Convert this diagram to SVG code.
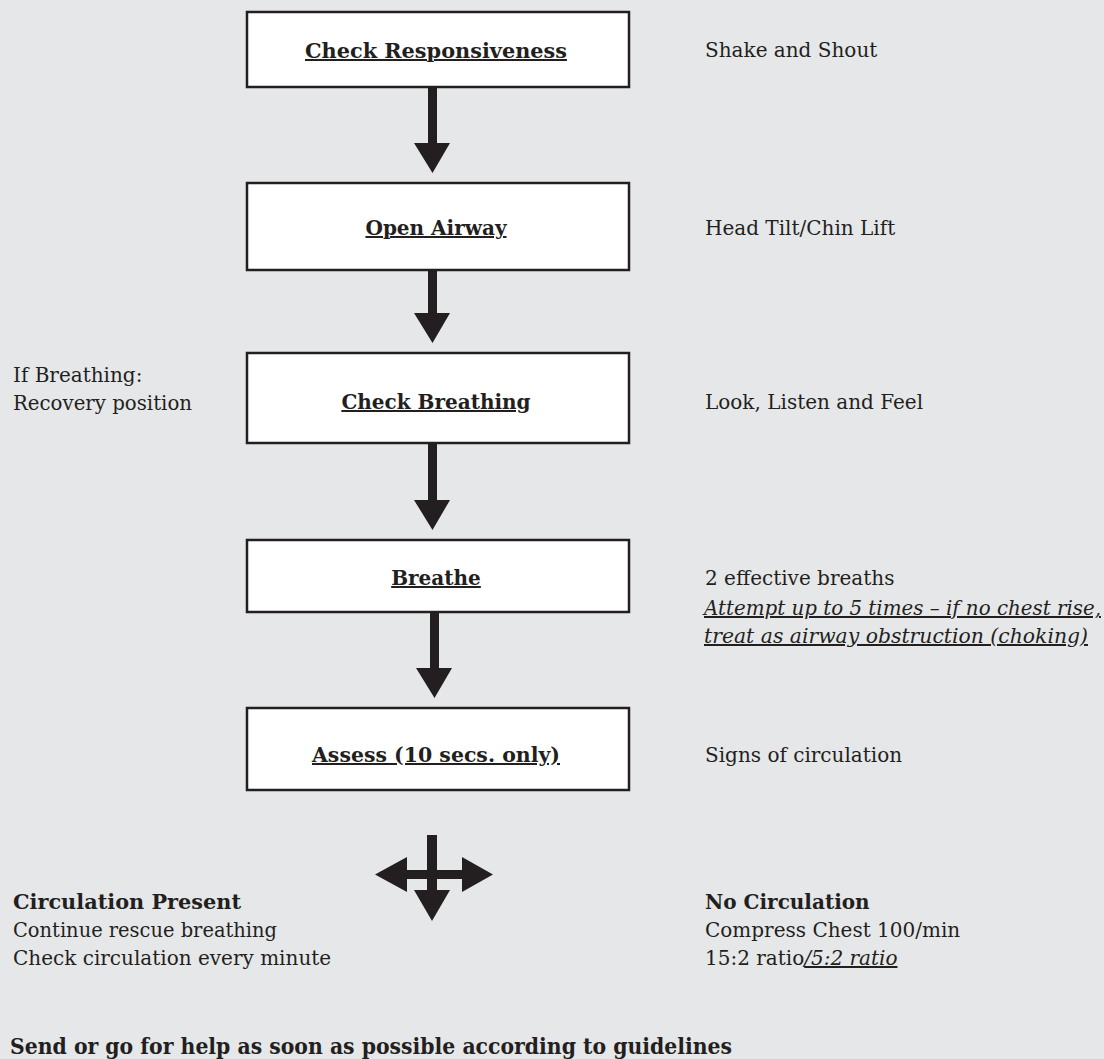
<svg xmlns="http://www.w3.org/2000/svg" width="1104" height="1059" viewBox="0 0 1104 1059">
<style>
text{font-family:"DejaVu Serif","Liberation Serif",serif;fill:#231f20;font-size:20px}
.b{font-weight:bold}
.u{text-decoration:underline}
.i{font-style:italic}
.c{text-anchor:middle}
.box{fill:#fff;stroke:#231f20;stroke-width:2.5}
.arr{fill:#231f20}
</style>
<rect width="1104" height="1059" fill="#e6e7e9"/>
<g id="connectors">
<polygon class="arr" points="428,88 437,88 437,143 450,143 432.5,173 414,143 428,143"/>
<polygon class="arr" points="428,271 437,271 437,313 450,313 432.5,343 414,313 428,313"/>
<polygon class="arr" points="428,444 437,444 437,500 450,500 432.5,530 414,500 428,500"/>
<polygon class="arr" points="430,613 439,613 439,668 452,668 434.5,698 416,668 430,668"/>
<g id="split-arrow">
<rect class="arr" x="427" y="835" width="10" height="56"/>
<rect class="arr" x="406" y="870" width="57" height="9"/>
<polygon class="arr" points="407,857 375,874.5 407,892"/>
<polygon class="arr" points="462,857 493,874.5 462,892"/>
<polygon class="arr" points="414,890 450,890 432,921"/>
</g>
</g>
<g id="n1">
<rect class="box" x="247" y="12" width="382" height="75"/>
<text class="b u c" x="436" y="58" textLength="262" lengthAdjust="spacingAndGlyphs">Check Responsiveness</text>
<text x="705" y="57">Shake and Shout</text>
</g>
<g id="n2">
<rect class="box" x="247" y="183" width="382" height="87"/>
<text class="b u c" x="436" y="235">Open Airway</text>
<text x="705" y="235">Head Tilt/Chin Lift</text>
</g>
<g id="n3">
<rect class="box" x="247" y="353" width="382" height="90"/>
<text class="b u c" x="436" y="409">Check Breathing</text>
<text x="705" y="409">Look, Listen and Feel</text>
<text x="13" y="382">If Breathing:</text>
<text x="13" y="410" textLength="179" lengthAdjust="spacingAndGlyphs">Recovery position</text>
</g>
<g id="n4">
<rect class="box" x="247" y="540" width="382" height="72"/>
<text class="b u c" x="436" y="585">Breathe</text>
<text x="705" y="585">2 effective breaths</text>
<text class="i u" x="704" y="615" textLength="397" lengthAdjust="spacingAndGlyphs">Attempt up to 5 times – if no chest rise,</text>
<text class="i u" x="704" y="643" textLength="384" lengthAdjust="spacingAndGlyphs">treat as airway obstruction (choking)</text>
</g>
<g id="n5">
<rect class="box" x="247" y="708" width="382" height="82"/>
<text class="b u c" x="436" y="762" textLength="248" lengthAdjust="spacingAndGlyphs">Assess (10 secs. only)</text>
<text x="705" y="762">Signs of circulation</text>
</g>
<g id="n6">
<text class="b" x="13" y="909" textLength="228" lengthAdjust="spacingAndGlyphs">Circulation Present</text>
<text x="13" y="937" textLength="264" lengthAdjust="spacingAndGlyphs">Continue rescue breathing</text>
<text x="13" y="965">Check circulation every minute</text>
</g>
<g id="n7">
<text class="b" x="705" y="909">No Circulation</text>
<text x="705" y="937">Compress Chest 100/min</text>
<text x="705" y="965">15:2 ratio<tspan class="i u">/5:2 ratio</tspan></text>
</g>
<g id="n8">
<text class="b" x="10" y="1054" style="font-size:22px" textLength="722" lengthAdjust="spacingAndGlyphs">Send or go for help as soon as possible according to guidelines</text>
</g>
</svg>
